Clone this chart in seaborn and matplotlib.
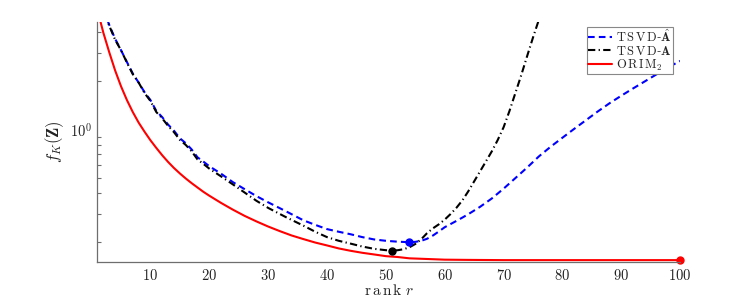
import numpy as np
import pandas as pd
import matplotlib
matplotlib.use("Agg")
import matplotlib.pyplot as plt
import seaborn as sns
from matplotlib.ticker import LogLocator, NullFormatter, FixedLocator

# ---- data ----
r_red = [1, 2, 3, 4, 5, 6, 7, 8, 9, 10, 11, 12, 13, 14, 15, 16, 17, 18, 19, 20,
         22, 24, 26, 28, 30, 32, 34, 36, 38, 40, 42, 44, 46, 48, 50, 52, 54, 56,
         58, 60, 64, 70, 80, 90, 100]
f_red = [5.50, 3.98, 3.01, 2.32, 1.85, 1.52, 1.28, 1.10, 0.966, 0.855, 0.766, 0.690,
         0.627, 0.575, 0.532, 0.495, 0.463, 0.435, 0.409, 0.387, 0.349, 0.317, 0.290,
         0.268, 0.249, 0.233, 0.219, 0.208, 0.198, 0.190, 0.182, 0.176, 0.171, 0.167,
         0.163, 0.161, 0.158, 0.157, 0.156, 0.155, 0.1545, 0.154, 0.154, 0.154, 0.154]

r_black = [1, 2, 3, 4, 5, 6, 7, 8, 9, 10, 11, 12, 13, 14, 15, 16, 17, 18, 19, 20,
           22, 24, 26, 28, 30, 33, 36, 38, 40, 42, 44, 46, 48, 50, 51, 52, 53, 54,
           55, 56, 57, 58, 59, 60, 61, 62, 63, 64, 65, 66, 67, 68, 69, 70, 71, 72,
           73, 74, 75, 76, 77]
f_black = [7.5, 5.6, 4.4, 3.6, 3.1, 2.6, 2.2, 1.95, 1.68, 1.5, 1.28, 1.17, 1.05, 0.96,
           0.86, 0.80, 0.73, 0.65, 0.61, 0.57, 0.51, 0.455, 0.405, 0.36, 0.325, 0.285,
           0.252, 0.231, 0.214, 0.203, 0.195, 0.187, 0.181, 0.1775, 0.1766, 0.1774,
           0.180, 0.185, 0.194, 0.2075, 0.2265, 0.2427, 0.257, 0.275, 0.298, 0.326,
           0.362, 0.412, 0.475, 0.548, 0.632, 0.73, 0.858, 1.03, 1.30, 1.68, 2.17,
           2.85, 3.72, 4.8, 6.1]

r_blue = [1, 2, 3, 4, 5, 6, 7, 8, 9, 10, 11, 12, 13, 14, 15, 16, 17, 18, 19, 20,
          22, 24, 26, 28, 30, 33, 36, 38, 40, 42, 44, 46, 48, 50, 52, 54, 55, 56, 57,
          58, 59, 60, 61, 62, 63, 64, 66, 68, 70, 72, 74, 76, 78, 80, 82, 84, 86, 88,
          90, 92, 94, 96, 98, 100]
f_blue = [7.5, 5.6, 4.45, 3.65, 3.1, 2.62, 2.22, 1.95, 1.7, 1.52, 1.3, 1.19, 1.07,
          0.98, 0.88, 0.82, 0.75, 0.67, 0.63, 0.59, 0.53, 0.47, 0.425, 0.385, 0.352,
          0.31, 0.272, 0.255, 0.240, 0.231, 0.223, 0.214, 0.207, 0.203, 0.2005, 0.199,
          0.200, 0.203, 0.209, 0.219, 0.232, 0.2466, 0.258, 0.270, 0.283, 0.297,
          0.330, 0.372, 0.428, 0.4977, 0.579, 0.679, 0.780, 0.887, 1.007, 1.140,
          1.291, 1.452, 1.618, 1.795, 1.986, 2.198, 2.432, 2.66]

min_black = (51, 0.1766)
min_blue = (54, 0.199)
min_red = (100, 0.154)

labels = [r"$\mathrm{T\,S\,V\,D}$-$\hat{\mathbf{A}}$",
          r"$\mathrm{T\,S\,V\,D}$-$\mathbf{A}$",
          r"$\mathrm{O\,R\,I\,M}_2$"]
xticks = [10, 20, 30, 40, 50, 60, 70, 80, 90, 100]

# ---- plotting ----
sns.set_theme(style="white")
plt.rcParams["mathtext.fontset"] = "cm"
plt.rcParams["font.family"] = ["DejaVu Serif"]

fig = plt.figure(figsize=(7.47, 2.96), dpi=100)
ax = fig.add_axes([0.1305, 0.115, 0.780, 0.811])

df_blue = pd.DataFrame({"r": r_blue, "f": f_blue})
df_black = pd.DataFrame({"r": r_black, "f": f_black})
df_red = pd.DataFrame({"r": r_red, "f": f_red})

sns.lineplot(data=df_blue, x="r", y="f", ax=ax, color=(0, 0, 1), lw=1.5,
             linestyle=(0, (3.2, 2.0)), label=labels[0], sort=False)
sns.lineplot(data=df_black, x="r", y="f", ax=ax, color="black", lw=1.5,
             linestyle=(0, (3.5, 1.6, 0.6, 1.6)), label=labels[1], sort=False)
sns.lineplot(data=df_red, x="r", y="f", ax=ax, color=(1, 0, 0), lw=1.5,
             linestyle="-", label=labels[2], sort=False)

ax.plot([min_blue[0]], [min_blue[1]], "o", color=(0, 0, 1), ms=5)
ax.plot([min_black[0]], [min_black[1]], "o", color="black", ms=5)
ax.plot([min_red[0]], [min_red[1]], "o", color=(1, 0, 0), ms=5, clip_on=False)

ax.set_yscale("log")
ax.set_xlim(1, 100)
ax.set_ylim(0.15, 4.65)

ax.xaxis.set_major_locator(FixedLocator(xticks))
ax.set_xticklabels([rf"${t}$" for t in xticks])
ax.set_yticks([1])
ax.set_yticklabels([r"$10^{0}$"])
ax.yaxis.set_minor_locator(LogLocator(base=10, subs=np.arange(2, 10)))
ax.yaxis.set_minor_formatter(NullFormatter())

spine_col = "#6e6e6e"
for s in ["top", "right"]:
    ax.spines[s].set_visible(False)
for s in ["left", "bottom"]:
    ax.spines[s].set_color(spine_col)
    ax.spines[s].set_linewidth(0.9)

ax.tick_params(axis="both", which="major", direction="in", length=5, width=0.8,
               color=spine_col, labelsize=10.5, labelcolor="#222222", pad=4)
ax.tick_params(axis="y", which="minor", direction="in", length=3, width=0.8,
               color=spine_col, left=True)
ax.tick_params(axis="x", which="minor", bottom=False)

ax.set_xlabel(r"$\mathrm{r\,a\,n\,k}\ r$", fontsize=11, labelpad=0, color="#222222")
ax.set_ylabel(r"$f_K(\mathbf{Z})$", fontsize=12, labelpad=3, color="#222222")

leg = ax.legend(loc="upper right", bbox_to_anchor=(0.987, 0.98), fontsize=9,
                frameon=True, fancybox=False, framealpha=1, edgecolor="#888888",
                borderpad=0.1, labelspacing=0.0, handlelength=1.9, handletextpad=0.3,
                borderaxespad=0.0)
leg.get_frame().set_linewidth(0.8)

fig.savefig("out.png", dpi=100)
